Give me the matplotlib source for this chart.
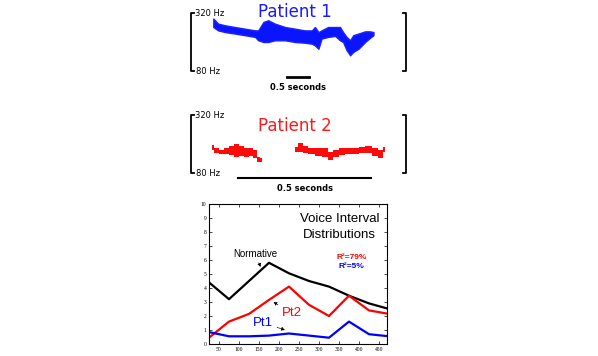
import matplotlib
matplotlib.use('Agg')
from matplotlib import pyplot as plt

# pitch traces (seconds, Hz)
p1_time = [0.03, 0.14, 0.30, 0.52, 0.75, 0.98, 1.05, 1.17, 1.28, 1.43, 1.66, 1.89, 2.11, 2.27, 2.34,
           2.42, 2.49, 2.64, 2.80, 2.91, 2.98, 3.06, 3.14, 3.21, 3.33, 3.48, 3.59, 3.67]
p1_high = [297, 276, 269, 262, 255, 248, 248, 283, 290, 276, 262, 255, 248, 248, 262,
           241, 248, 262, 262, 262, 241, 221, 207, 228, 235, 244, 244, 241]
p1_low = [262, 248, 241, 235, 228, 221, 207, 200, 200, 207, 207, 200, 197, 193, 186,
          172, 214, 221, 225, 207, 200, 166, 145, 159, 172, 200, 217, 228]

p2a_time = [0.0, 0.019, 0.038, 0.056, 0.075, 0.094, 0.113, 0.132, 0.150, 0.163, 0.175, 0.188]
p2a_high = [196, 185, 175, 182, 193, 199, 193, 185, 182, 175, 148, 141]
p2a_low = [175, 161, 157, 157, 155, 148, 152, 148, 152, 141, 127, 124]
p2b_time = [0.313, 0.332, 0.351, 0.376, 0.401, 0.426, 0.445, 0.464, 0.489, 0.514, 0.539, 0.564,
            0.589, 0.614, 0.633, 0.652]
p2b_high = [189, 203, 193, 185, 182, 182, 168, 175, 182, 185, 185, 189, 192, 185, 175, 189]
p2b_low = [168, 166, 161, 157, 152, 148, 134, 148, 155, 157, 157, 161, 161, 152, 141, 168]

# voice interval distributions
intervals = [25, 75, 125, 175, 225, 275, 325, 375, 425, 475]
normative = [4.4, 3.2, 4.5, 5.8, 5.05, 4.5, 4.1, 3.45, 2.9, 2.5]
pt2 = [0.45, 1.6, 2.15, 3.15, 4.1, 2.8, 2.0, 3.45, 2.4, 2.15]
pt1 = [0.85, 0.55, 0.55, 0.6, 0.75, 0.6, 0.45, 1.6, 0.7, 0.55]

W, H = 598, 356
fig = plt.figure(figsize=(W / 100, H / 100), dpi=100)


def px_axes(x0, y0, x1, y1):
    return fig.add_axes([x0 / W, 1 - y1 / H, (x1 - x0) / W, (y1 - y0) / H])


def bracket(ax):
    k = 0.014
    ax.plot([k, 0, 0, k], [1, 1, 0, 0], transform=ax.transAxes, color='black', lw=1.3, clip_on=False)
    ax.plot([1 - k, 1, 1, 1 - k], [1, 1, 0, 0], transform=ax.transAxes, color='black', lw=1.3, clip_on=False)
    ax.text(0.018, 1.0, '320 Hz', transform=ax.transAxes, fontsize=6, va='center', ha='left')
    ax.text(0.025, 0.0, '80 Hz', transform=ax.transAxes, fontsize=6, va='center', ha='left')


# Patient 1
ax1 = px_axes(191, 13, 406, 71)
ax1.set_xlim(-0.477, 4.41)
ax1.set_ylim(80, 320)
ax1.axis('off')
ax1.fill_between(p1_time, p1_low, p1_high, color='#0a14ff', lw=1.0, edgecolor='#1a24ff')
bracket(ax1)
ax1.text(0.484, 1.02, 'Patient 1', transform=ax1.transAxes, color='#1a1aff', fontsize=12,
         ha='center', va='center', family='DejaVu Sans')
ax1.plot([1.70, 2.20], [55, 55], color='black', lw=2, clip_on=False)
ax1.text(1.95, 10, '0.5 seconds', fontsize=6, fontweight='bold', ha='center', va='center')

# Patient 2
ax2 = px_axes(191, 115, 406, 173)
ax2.set_xlim(-0.078, 0.730)
ax2.set_ylim(80, 320)
ax2.axis('off')
ax2.fill_between(p2a_time, p2a_low, p2a_high, step='mid', color='#ff0a0a', lw=0)
ax2.fill_between(p2b_time, p2b_low, p2b_high, step='mid', color='#ff0a0a', lw=0)
bracket(ax2)
ax2.text(0.484, 0.81, 'Patient 2', transform=ax2.transAxes, color='#ff1a1a', fontsize=12,
         ha='center', va='center', family='DejaVu Sans')
ax2.plot([0.099, 0.599], [60, 60], color='black', lw=1.5, clip_on=False)
ax2.text(0.349, 16, '0.5 seconds', fontsize=6, fontweight='bold', ha='center', va='center')

# Voice interval distributions
ax3 = px_axes(209, 204, 387, 344)
ax3.plot(intervals, normative, color='black', lw=1.6)
ax3.plot(intervals, pt2, color='red', lw=1.6)
ax3.plot(intervals, pt1, color='blue', lw=1.6)
ax3.set_xlim(25, 470)
ax3.set_ylim(0, 10)
ax3.set_xticks(range(50, 451, 50))
ax3.set_yticks(range(0, 11))
ax3.tick_params(direction='in', length=2, width=0.5, labelsize=4, pad=2, top=True, right=True)
for lab in ax3.get_xticklabels() + ax3.get_yticklabels():
    lab.set_family('Liberation Serif')
for s in ax3.spines.values():
    s.set_linewidth(0.8)

ax3.text(352, 8.36, 'Voice Interval\nDistributions', fontsize=9.5, ha='center', va='center',
         family='Liberation Sans', linespacing=1.35)
ax3.text(382, 6.17, 'R²=79%', color='red', fontsize=6, fontweight='bold', ha='center', va='center',
         family='Liberation Sans')
ax3.text(380, 5.57, 'R²=5%', color='blue', fontsize=6, fontweight='bold', ha='center', va='center',
         family='Liberation Sans')

arrow = dict(arrowstyle='-|>', color='black', lw=0.5, mutation_scale=5, linestyle=(0, (1.5, 1)),
             shrinkA=1, shrinkB=0)
ax3.annotate('Normative', xy=(154, 5.5), xytext=(140, 6.45), fontsize=7, ha='center', va='center',
             family='Liberation Sans', arrowprops=arrow)
ax3.annotate('Pt2', xy=(186, 3.0), xytext=(232, 2.2), fontsize=9.5, color='red', ha='center', va='center',
             family='Liberation Sans', arrowprops=arrow)
ax3.annotate('Pt1', xy=(215, 1.0), xytext=(160, 1.52), fontsize=9.5, color='blue', ha='center', va='center',
             family='Liberation Sans', arrowprops=arrow)

fig.savefig('out.png', dpi=100)
